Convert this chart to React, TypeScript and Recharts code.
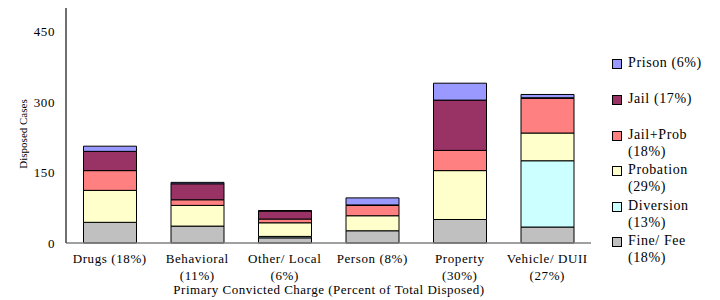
import React from 'react';
import { BarChart, Bar, XAxis, YAxis } from 'recharts';

const categories = ['Drugs (18%)', 'Behavioral (11%)', 'Other/ Local (6%)', 'Person (8%)', 'Property (30%)', 'Vehicle/ DUII (27%)'];
const tickLines = [['Drugs (18%)'], ['Behavioral', '(11%)'], ['Other/ Local', '(6%)'], ['Person (8%)'], ['Property', '(30%)'], ['Vehicle/ DUII', '(27%)']];
const fineFee = [44, 36, 11, 26, 50, 34];
const diversion = [0, 0, 3, 0, 0, 141];
const probation = [68, 44, 29, 32, 104, 59];
const jailProb = [42, 12, 8, 22, 43, 74];
const jail = [41, 34, 17, 1, 107, 1];
const prison = [11, 3, 1, 15, 36, 7];
const yTicks = [0, 150, 300, 450];

const seriesKeys = ['fine', 'diversion', 'probation', 'jailProb', 'jail', 'prison'];
const seriesColors: Record<string, string> = {
  fine: '#C0C0C0',
  diversion: '#CCFFFF',
  probation: '#FFFFCC',
  jailProb: '#FF8080',
  jail: '#993366',
  prison: '#9999FF',
};
const legendItems = [
  { key: 'prison', lines: ['Prison (6%)'] },
  { key: 'jail', lines: ['Jail (17%)'] },
  { key: 'jailProb', lines: ['Jail+Prob', '(18%)'] },
  { key: 'probation', lines: ['Probation', '(29%)'] },
  { key: 'diversion', lines: ['Diversion', '(13%)'] },
  { key: 'fine', lines: ['Fine/ Fee', '(18%)'] },
];

const data = categories.map((c, i) => ({
  name: c,
  idx: i,
  fine: fineFee[i],
  diversion: diversion[i],
  probation: probation[i],
  jailProb: jailProb[i],
  jail: jail[i],
  prison: prison[i],
}));

const FONT = '"Liberation Serif", "Times New Roman", Times, serif';

const XTick = (props: any) => {
  const { x, y, index } = props;
  const lines = tickLines[index] || [];
  return (
    <text x={x} y={y} textAnchor="middle" fontFamily={FONT} fontSize={13} fill="#000" letterSpacing={0.6}>
      {lines.map((l, i) => (
        <tspan key={i} x={x} dy={i === 0 ? 18 : 16.5}>{l}</tspan>
      ))}
    </text>
  );
};

const LegendBox = () => {
  const tops = [0, 36, 72, 107, 143, 178];
  return (
    <div style={{ fontFamily: FONT, fontSize: 14, letterSpacing: 0.6, color: '#000', position: 'absolute', left: 612, top: 55, width: 100, height: 220 }}>
      {legendItems.map((it, i) => (
        <div key={it.key} style={{ position: 'absolute', top: tops[i], left: 0, lineHeight: '16.5px' }}>
          <span style={{ position: 'absolute', left: 0, top: 4, width: 8, height: 8, background: seriesColors[it.key], border: '1px solid #000' }} />
          <div style={{ marginLeft: 16, whiteSpace: 'nowrap' }}>
            {it.lines.map((l, j) => <div key={j}>{l}</div>)}
          </div>
        </div>
      ))}
    </div>
  );
};

export default function App() {
  return (
    <div style={{ position: 'fixed', top: 0, left: 0, width: 720, height: 300, background: '#fff', overflow: 'hidden' }}>
      <BarChart width={720} height={300} data={data} margin={{ top: 8, right: 129, left: 0, bottom: 0 }} barCategoryGap="20%">
        <XAxis
          dataKey="name"
          tick={<XTick />}
          tickLine={false}
          tickSize={0}
          height={57}
          interval={0}
          axisLine={{ stroke: '#808080', strokeWidth: 1.5 }}
          label={{
            content: () => (
              <text x={329} y={294} textAnchor="middle" fontFamily={FONT} fontSize={13} fill="#000" letterSpacing={0.5}>
                Primary Convicted Charge (Percent of Total Disposed)
              </text>
            ),
          }}
        />
        <YAxis
          domain={[0, 500]}
          ticks={yTicks}
          width={66}
          tickLine={false}
          tickSize={0}
          tickMargin={11}
          axisLine={{ stroke: '#404040', strokeWidth: 1.5 }}
          tick={{ fontFamily: FONT, fontSize: 13, fill: '#000', letterSpacing: 0.6 }}
          label={{
            content: () => (
              <text x={27} y={134} textAnchor="middle" fontFamily={FONT} fontSize={11} fill="#000" transform="rotate(-90 27 134)">
                Disposed Cases
              </text>
            ),
          }}
        />
        {seriesKeys.map((k) => (
          <Bar key={k} dataKey={k} stackId="a" fill={seriesColors[k]} stroke="#000" strokeWidth={1} isAnimationActive={false} />
        ))}
      </BarChart>
      <LegendBox />
    </div>
  );
}
